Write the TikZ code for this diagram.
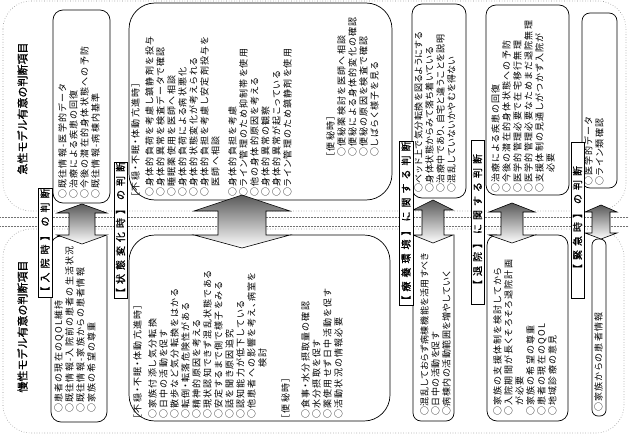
\documentclass[tikz,border=0pt]{standalone}
\usepackage{fontspec}
\setmainfont{Noto Sans CJK JP}
\newfontfamily\bodyjp[LetterSpace=14, RawFeature=+palt]{Noto Sans CJK JP}
\newfontfamily\labjp[LetterSpace=40, FakeBold=1]{Noto Sans CJK JP}
\newfontfamily\titlejp[FakeBold=1]{Noto Sans CJK JP}
\usetikzlibrary{positioning}
\tikzset{
  txt/.style = {rotate=90, anchor=north west, inner sep=0pt, align=left, font=\bodyjp\fontsize{9}{11}\selectfont},
  labbox/.style = {draw, fill=white, rotate=90, inner sep=0pt, font=\labjp\fontsize{10}{10}\selectfont},
  titlebox/.style = {draw, double, double distance=1.2pt, rotate=90, inner sep=0pt, font=\titlejp\fontsize{11}{12}\selectfont},
  judge/.style = {draw, line width=0.7pt},
  bigarrow/.style = {draw, line width=0.6pt, top color=black!65, bottom color=white},
  zone/.style = {draw=black!45, dotted, line width=0.6pt, rounded corners=28pt},
  band/.style = {draw=black!55, densely dotted, line width=0.5pt},
}
% up and down block arrow: centre x, head half width, shaft half width,
% upper tip, upper base, lower base, lower tip
\newcommand{\twoway}[7]{%
  \draw[bigarrow] (#1,#4) -- ({#1+#2},#5) -- ({#1+#3},#5) -- ({#1+#3},#6)
    -- ({#1+#2},#6) -- (#1,#7) -- ({#1-#2},#6) -- ({#1-#3},#6)
    -- ({#1-#3},#5) -- ({#1-#2},#5) -- cycle;}

\begin{document}
\begin{tikzpicture}[x=1pt, y=-1pt]
    \useasboundingbox (0,0) rectangle (629,436);

    % Zones
    \draw[zone] (3,1) rectangle (626,211);
    \draw[zone] (3,229) rectangle (624,433);
    \draw[band] (0,217) -- (629,217);
    \draw[band] (0,226) -- (629,226);

    % Acute boxes
    \draw[judge, rounded corners=10pt] (53,10) rectangle (110,203);
    \draw[judge, rounded corners=26pt] (129,3) rectangle (392,200);
    \draw[judge, rounded corners=10pt] (412,4) rectangle (466,198);
    \draw[judge, rounded corners=10pt] (486,5) rectangle (569,195);
    \draw[judge, rounded corners=8pt] (582,13) rectangle (617,188);

    % Chronic boxes
    \draw[judge, rounded corners=10pt] (57,236) -- (51,236) -- (51,422) -- (107,422) -- (107,236);
    \draw[judge, rounded corners=26pt] (194,235) -- (129,235) -- (129,421) -- (390,421) -- (390,235) -- (290,235);
    \draw[judge, rounded corners=8pt] (413,235) -- (413,421) -- (454,421) -- (454,235);
    \draw[judge, rounded corners=10pt] (489,235) -- (487,235) -- (487,421) -- (568,421) -- (568,235) -- (535,235);
    \draw[judge, rounded corners=6pt] (592,239) rectangle (606,416);

    % Arrows
    \twoway{82}{25}{13}{204}{213}{235}{244}
    \twoway{242}{48}{24}{195}{211}{235}{248}
    \twoway{433}{20}{11}{200}{210}{235}{243}
    \twoway{512}{23}{11}{203}{212}{235}{243}
    \twoway{601}{16}{9}{205}{212}{233}{239}

    % Titles
    \node (acute) [titlebox, minimum width=153pt, minimum height=19pt] at (22.5,108.5) {急性モデル有意の判断項目};
    \node (chronic) [titlebox, minimum width=155pt, minimum height=19pt] at (22.5,326.5) {慢性モデル有意の判断項目};

    % Phase labels
    \node (admit) [labbox, minimum width=109pt, minimum height=14pt] at (45,242.5) {【入院時】の判断};
    \node (change) [labbox, minimum width=130pt, minimum height=13pt] at (120.5,230) {【状態変化時】の判断};
    \node (ward) [labbox, minimum width=161pt, minimum height=14pt] at (406,223.5) {【療養環境】に関する判断};
    \node (leave) [labbox, minimum width=164pt, minimum height=13pt] at (477.5,222) {【退院】に関する判断};
    \node (urgent) [labbox, minimum width=156pt, minimum height=13pt] at (577.5,220) {【緊急時】の判断};

    % Acute items
    \node (acuteA) [txt] at (58,199) {○既往情報-医学的データ\\○治療による疾患の回復\\○今後の潜在的身体状態への予防\\○既往情報-病棟内基準};
    \node (acuteB) [txt] at (131,197) {［不穏・不眠・体動亢進時］\\[3pt]○身体的負荷を考慮し鎮静剤を投与\\○身体的異常を検査データで確認\\○睡眠薬使用を医師へ相談\\○身体的負荷による病状悪化\\○身体的状態変化が考えられる\\○身体的負担を考慮し安定剤投与を\\　医師へ相談\\[6pt]○身体的負担を考慮\\○ライン管理のため抑制帯を使用\\○他の身体的原因を考える\\○身体的異常の観察\\○身体的異常が起こっている\\○ライン管理のため鎮静剤を使用};
    \node (acuteC) [txt] at (326,157) {［便秘時］\\○便秘薬検討を医師へ相談\\○便秘による身体的変化の確認\\○便秘の原因を検査で確認\\○しばらく様子を見る};
    \node (acuteD) [txt, font=\bodyjp\addfontfeature{LetterSpace=6}\fontsize{9}{11}\selectfont] at (414,193) {○ベッド上で気分転換を図るようにする\\○身体状態からみて落ち着いている\\○治療中であり、自宅と違うことを説明\\○混乱していないかやむを得ない};
    \node (acuteE) [txt] at (491,193) {○治療による疾患の回復\\○今後の潜在的身体状態への予防\\○医学的管理必要で在宅移行無理\\○医学的管理必要なためまだ退院無理\\○支援体制の見通しがつかず入院が\\　　必要};
    \node (acuteF) [txt] at (584,186) {○医学的データ\\○ライン類確認};

    % Chronic items
    \node (chronA) [txt] at (54,413) {○患者の現在のQOL維持\\○既往情報-入院前の患者の生活状況\\○既往情報-家族からの患者情報\\○家族の希望の尊重};
    \node (chronB) [txt] at (133,419) {［不穏・不眠・体動亢進時］\\[4pt]○家族付添し気分転換\\○日中の活動を促す\\○散歩など気分転換をはかる\\○転倒・転落危険性がある\\○精神的原因を考える\\○現状認知できず混乱状態である\\○安定するまで側で様子をみる\\○話を聞き原因追究\\○認知能力が低下している\\○他患者への影響を考え、病室を\\　　　　　検討};
    \node (chronC) [txt] at (281,419) {［便秘時］\\[9pt]○食事・水分摂取量の確認\\○水分摂取を促す\\○薬使用せず日中活動を促す\\○活動状況の情報必要};
    \node (chronD) [txt, font=\bodyjp\addfontfeature{LetterSpace=6}\fontsize{9}{11}\selectfont] at (420,416) {○混乱しておらず病棟機能を活用すべき\\○日中の活動を促す\\○病棟内の活動範囲を増やしていく};
    \node (chronE) [txt] at (493,416) {○家族の支援体制を検討してから\\○入院期間が長くそろそろ退院計画\\　が必要\\○家族の希望の尊重\\○患者の現在のQOL\\○地域診療の意見};
    \node (chronF) [txt] at (594,412) {○家族からの患者情報};

\end{tikzpicture}
\end{document}
